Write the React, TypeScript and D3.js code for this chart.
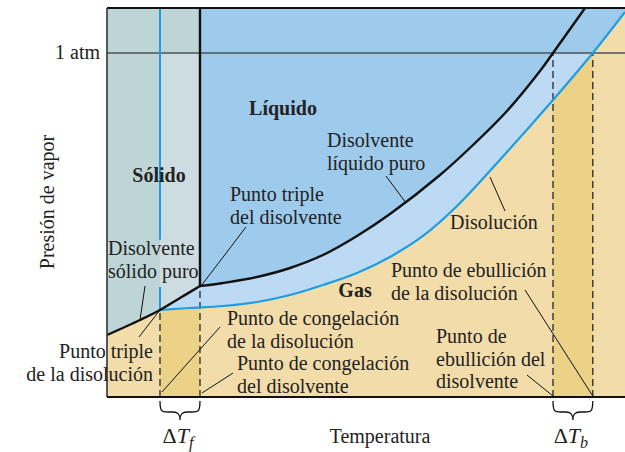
import React from 'react';
import * as d3 from 'd3';

const W = 625;
const H = 452;
const PLOT = { left: 107, right: 625, top: 8, bottom: 397 };

// temperature / pressure in arbitrary units (0..100 across the frame)
const ONE_ATM = 88.43;
const TF_SOLUTION = 10.23;
const TF_SOLVENT = 17.95;
const TB_SOLVENT = 86.1;
const TB_SOLUTION = 93.78;
const SOLUTION_TRIPLE_P = 22.37;
const SOLVENT_TRIPLE_P = 28.53;

const solventSublimation: [number, number][] = [
  [0, 15.94], [6.37, 19.8], [10.23, 22.37], [14.09, 25.45], [17.95, 28.53],
];
const solventVapor: [number, number][] = [
  [17.95, 28.53], [22.39, 29.31], [28.96, 30.85], [35.33, 33.16], [41.7, 36.5],
  [48.26, 41.39], [54.63, 47.04], [64.29, 57.07], [70.66, 64.78],
  [77.22, 73.52], [83.59, 83.8], [86.1, 88.43], [92.28, 100],
];
const solutionVapor: [number, number][] = [
  [10.23, 22.37], [16.02, 22.88], [22.39, 23.39], [28.96, 24.42], [35.33, 26.22],
  [41.7, 28.79], [48.26, 31.88], [54.63, 35.99], [61.0, 41.39], [67.57, 49.1],
  [77.22, 63.0], [86.1, 76.35], [93.78, 88.43], [100, 99.0],
];
// gap in the solution freezing line where the label sits
const blueLineGap = [28.3, 40.4];

const C = {
  tan: '#f2dcaa',
  darkTan: '#ecd287',
  liquid: '#9ecaec',
  lightBlue: '#bcdaf3',
  solid: '#bed5d7',
  lightSolid: '#ccdce1',
  blue: '#1d9de2',
  atm: '#4b5257',
};

const FONT = "'Liberation Serif', serif";
const FS = 20;
const LH = 22.5;

type Label = { lines: string[]; x: number; y: number; anchor?: 'start' | 'middle' | 'end'; bold?: boolean };
const labels: Label[] = [
  { lines: ['Líquido'], x: 283, y: 115, anchor: 'middle', bold: true },
  { lines: ['Sólido'], x: 159, y: 182, anchor: 'middle', bold: true },
  { lines: ['Gas'], x: 355, y: 297, anchor: 'middle', bold: true },
  { lines: ['Disolvente', 'líquido puro'], x: 327, y: 147 },
  { lines: ['Punto triple', 'del disolvente'], x: 230, y: 201 },
  { lines: ['Disolvente', 'sólido puro'], x: 108, y: 255 },
  { lines: ['Punto triple', 'de la disolución'], x: 153, y: 358, anchor: 'end' },
  { lines: ['Punto de congelación', 'de la disolución'], x: 227, y: 325 },
  { lines: ['Punto de congelación', 'del disolvente'], x: 237, y: 370 },
  { lines: ['Punto de ebullición', 'de la disolución'], x: 391, y: 277 },
  { lines: ['Punto de', 'ebullición del', 'disolvente'], x: 436, y: 343 },
  { lines: ['Disolución'], x: 450, y: 229 },
];

export default function App() {
  const x = d3.scaleLinear().domain([0, 100]).range([PLOT.left, PLOT.right]);
  const y = d3.scaleLinear().domain([0, 100]).range([PLOT.bottom, PLOT.top]);
  const line = d3
    .line<[number, number]>()
    .x((d) => x(d[0]))
    .y((d) => y(d[1]))
    .curve(d3.curveCatmullRom.alpha(0.5));

  const subPath = line(solventSublimation) as string;
  const solventPath = line(solventVapor) as string;
  const solutionPath = line(solutionVapor) as string;

  const liquidArea = `M${x(TF_SOLVENT)},${y(100)}L${solventPath.slice(1)}L${x(100)},${y(100)}Z`;
  const aboveSolution = `M${x(TF_SOLUTION)},${y(100)}L${solutionPath.slice(1)}L${x(100)},${y(100)}Z`;
  const solidArea = `M${x(0)},${y(100)}L${subPath.slice(1)}L${x(TF_SOLVENT)},${y(100)}Z`;

  const yAtm = y(ONE_ATM);

  // leader lines: [x1, y1, x2, y2]
  const leaders: [number, number, number, number][] = [
    [386, 176, 406, 203],
    [246, 227, x(TF_SOLVENT) + 1, y(SOLVENT_TRIPLE_P)],
    [145, 286, 140, 320],
    [139, 337, x(TF_SOLUTION), y(SOLUTION_TRIPLE_P)],
    [220, 327, x(TF_SOLUTION) + 2, PLOT.bottom - 5],
    [233, 373, x(TF_SOLVENT) + 2, PLOT.bottom - 4],
    [525, 290, x(TB_SOLUTION), PLOT.bottom - 1],
    [527, 375, x(TB_SOLVENT), PLOT.bottom - 1],
    [490, 177, 505, 211],
  ];

  const brace = (x1: number, x2: number) => {
    const y0 = 401, y1 = 412, y2 = 420, m = (x1 + x2) / 2;
    return `M${x1},${y0}C${x1},${y1} ${x1 + 2},${y1} ${x1 + 8},${y1}L${m - 7},${y1}C${m - 2},${y1} ${m},${y1 + 2} ${m},${y2}C${m},${y1 + 2} ${m + 2},${y1} ${m + 7},${y1}L${x2 - 8},${y1}C${x2 - 2},${y1} ${x2},${y1} ${x2},${y0}`;
  };

  const dashed: [number, number][] = [
    [TF_SOLUTION, SOLUTION_TRIPLE_P],
    [TF_SOLVENT, SOLVENT_TRIPLE_P],
    [TB_SOLVENT, ONE_ATM],
    [TB_SOLUTION, ONE_ATM],
  ];

  return (
    <svg width={W} height={H} style={{ position: 'absolute', left: 0, top: 0, background: '#fff' }}>
      <defs>
        <clipPath id="belowAtm">
          <rect x={PLOT.left} y={yAtm} width={PLOT.right - PLOT.left} height={PLOT.bottom - yAtm} />
        </clipPath>
        <clipPath id="stripF">
          <rect x={x(TF_SOLUTION)} y={yAtm} width={x(TF_SOLVENT) - x(TF_SOLUTION)} height={PLOT.bottom - yAtm} />
        </clipPath>
        <clipPath id="plot">
          <rect x={PLOT.left} y={PLOT.top} width={PLOT.right - PLOT.left} height={PLOT.bottom - PLOT.top} />
        </clipPath>
      </defs>

      <g clipPath="url(#plot)">
        <rect x={PLOT.left} y={PLOT.top} width={PLOT.right - PLOT.left} height={PLOT.bottom - PLOT.top} fill={C.tan} />
        <rect x={x(TF_SOLUTION)} y={yAtm} width={x(TF_SOLVENT) - x(TF_SOLUTION)} height={PLOT.bottom - yAtm} fill={C.darkTan} />
        <rect x={x(TB_SOLVENT)} y={yAtm} width={x(TB_SOLUTION) - x(TB_SOLVENT)} height={PLOT.bottom - yAtm} fill={C.darkTan} />
        <path d={aboveSolution} fill={C.liquid} />
        <path d={aboveSolution} fill={C.lightBlue} clipPath="url(#belowAtm)" />
        <path d={liquidArea} fill={C.liquid} />
        <path d={solidArea} fill={C.solid} />
        <path d={solidArea} fill={C.lightSolid} clipPath="url(#stripF)" />

        <line x1={PLOT.left} x2={PLOT.right} y1={yAtm} y2={yAtm} stroke={C.atm} strokeWidth={1.6} />

        {dashed.map(([t, p], i) => (
          <line key={i} x1={x(t)} x2={x(t)} y1={PLOT.bottom} y2={y(p)} stroke="#333" strokeWidth={1.4} strokeDasharray="7,4" />
        ))}

        <line x1={x(TF_SOLUTION)} x2={x(TF_SOLUTION)} y1={y(SOLUTION_TRIPLE_P)} y2={y(blueLineGap[0])} stroke={C.blue} strokeWidth={2} />
        <line x1={x(TF_SOLUTION)} x2={x(TF_SOLUTION)} y1={y(blueLineGap[1])} y2={y(100)} stroke={C.blue} strokeWidth={2} />
        <path d={solutionPath} fill="none" stroke={C.blue} strokeWidth={2.2} />
        <line x1={x(TF_SOLVENT)} x2={x(TF_SOLVENT)} y1={y(SOLVENT_TRIPLE_P)} y2={y(100)} stroke="#111" strokeWidth={2.4} />
        <path d={subPath} fill="none" stroke="#111" strokeWidth={2.4} />
        <path d={solventPath} fill="none" stroke="#111" strokeWidth={2.4} />
      </g>

      {/* frame */}
      <line x1={PLOT.left} x2={PLOT.right} y1={PLOT.top} y2={PLOT.top} stroke="#111" strokeWidth={2} />
      <line x1={PLOT.left} x2={PLOT.left} y1={PLOT.top} y2={PLOT.bottom} stroke="#333" strokeWidth={1.6} />
      <line x1={PLOT.left} x2={PLOT.right} y1={PLOT.bottom} y2={PLOT.bottom} stroke="#111" strokeWidth={1.8} />

      {leaders.map(([a, b, c, d], i) => (
        <line key={i} x1={a} y1={b} x2={c} y2={d} stroke="#111" strokeWidth={1} />
      ))}

      <g fontFamily={FONT} fontSize={FS} fill="#222">
        {labels.map((l, i) => (
          <text key={i} x={l.x} y={l.y} textAnchor={l.anchor ?? 'start'} fontWeight={l.bold ? 'bold' : 'normal'}>
            {l.lines.map((s, j) => (
              <tspan key={j} x={l.x} dy={j === 0 ? 0 : LH}>{s}</tspan>
            ))}
          </text>
        ))}
        <text x={100} y={59} textAnchor="end">1 atm</text>
        <text transform={`translate(54,202) rotate(-90)`} textAnchor="middle">Presión de vapor</text>
        <text x={380} y={443} textAnchor="middle">Temperatura</text>
        {[[TF_SOLUTION, TF_SOLVENT, 'f'], [TB_SOLVENT, TB_SOLUTION, 'b']].map(([a, b, s]) => (
          <g key={s as string}>
            <path d={brace(x(a as number), x(b as number))} fill="none" stroke="#111" strokeWidth={1.3} />
            <text x={(x(a as number) + x(b as number)) / 2 - 2} y={443} textAnchor="middle" fontSize={22}>
              <tspan>Δ</tspan>
              <tspan fontStyle="italic">T</tspan>
              <tspan fontStyle="italic" fontSize={16} dy={5}>{s as string}</tspan>
            </text>
          </g>
        ))}
      </g>
    </svg>
  );
}
